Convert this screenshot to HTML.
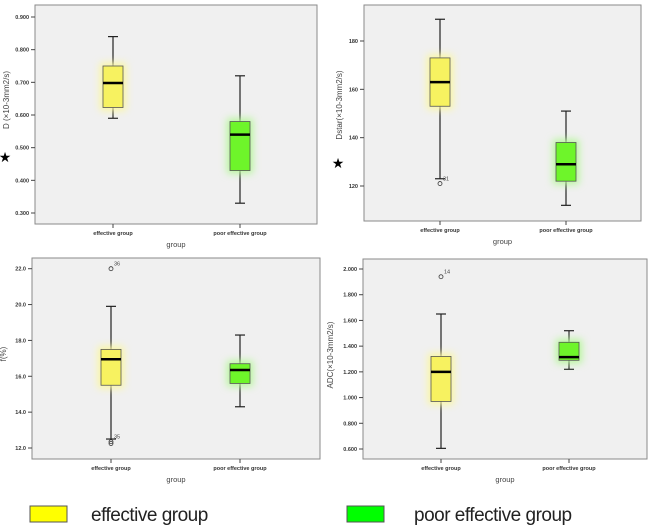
<!DOCTYPE html>
<html><head><meta charset="utf-8"><style>
body{margin:0;background:#fff;width:650px;height:527px;overflow:hidden;font-family:"Liberation Sans",sans-serif}
svg{position:absolute;left:0;top:0}
</style></head><body>
<svg id="chart" width="650" height="527" viewBox="0 0 650 527" xmlns="http://www.w3.org/2000/svg">
<defs>
<filter id="glowY" x="-100%" y="-50%" width="300%" height="200%"><feGaussianBlur stdDeviation="4"/></filter>
</defs>
</svg>
<script>
// Data (min whisker, q1, median, q3, max whisker) per group
const groups = ["effective group", "poor effective group"];
const dEffective = [0.59, 0.623, 0.698, 0.75, 0.84];
const dPoor = [0.33, 0.43, 0.54, 0.58, 0.72];
const dTicks = [0.3, 0.4, 0.5, 0.6, 0.7, 0.8, 0.9];
const dstarEffective = [123, 153, 163, 173, 189];
const dstarPoor = [112, 122, 129, 138, 151];
const dstarTicks = [120, 140, 160, 180];
const dstarOutliers = [[0, 121, "31"]];
const fEffective = [12.5, 15.5, 16.95, 17.5, 19.9];
const fPoor = [14.3, 15.6, 16.35, 16.7, 18.3];
const fTicks = [12, 14, 16, 18, 20, 22];
const fOutliers = [[0, 22.0, "36"], [0, 12.35, "35"], [0, 12.25, ""]];
const adcEffective = [0.605, 0.97, 1.2, 1.32, 1.65];
const adcPoor = [1.22, 1.29, 1.315, 1.43, 1.52];
const adcTicks = [0.6, 0.8, 1.0, 1.2, 1.4, 1.6, 1.8, 2.0];
const adcOutliers = [[0, 1.94, "14"]];

const NS = "http://www.w3.org/2000/svg";
const svg = document.getElementById("chart");
function mk(tag, attrs, parent, text) {
  const e = document.createElementNS(NS, tag);
  for (const k in attrs) e.setAttribute(k, attrs[k]);
  if (text !== undefined) e.textContent = text;
  (parent || svg).appendChild(e);
  return e;
}
function panel(cfg) {
  const g = mk("g", {});
  
  
  const bg = mk("rect", {x: cfg.x0, y: cfg.y0, width: cfg.x1 - cfg.x0, height: cfg.y1 - cfg.y0, fill: "#f0f0f0", stroke: "#8a8a8a", "stroke-width": 1}, g);
  
  
  const ys = v => cfg.ya + (v - cfg.va) * (cfg.yb - cfg.ya) / (cfg.vb - cfg.va);
  cfg.ticks.forEach(t => {
    const y = ys(t);
    const tk = mk("line", {x1: cfg.x0 - 4, x2: cfg.x0, y1: y, y2: y, stroke: "#444"}, g);
    
    
    const lb = mk("text", {x: cfg.x0 - 6, y: y + 2, "font-size": 5.5, "font-weight": "bold", "text-anchor": "end", fill: "#333"}, g, t.toFixed(cfg.dec));
    
    
  });
  const colors = ["#f7f260", "#6ef52a"];
  cfg.series.forEach((s, i) => {
    const cx = cfg.cx[i], w = 20;
    const bx = mk("g", {}, g);
    
    
    mk("line", {x1: cx, x2: cx, y1: ys(s[0]), y2: ys(s[4]), stroke: "#222", "stroke-width": 1.2}, bx);
    mk("line", {x1: cx - 5, x2: cx + 5, y1: ys(s[0]), y2: ys(s[0]), stroke: "#222", "stroke-width": 1.2}, bx);
    mk("line", {x1: cx - 5, x2: cx + 5, y1: ys(s[4]), y2: ys(s[4]), stroke: "#222", "stroke-width": 1.2}, bx);
    mk("rect", {x: cx - w / 2 - 3, y: ys(s[3]) - 3, width: w + 6, height: ys(s[1]) - ys(s[3]) + 6, fill: i === 0 ? "#fbf7a0" : "#b6f79a", filter: "url(#glowY)"}, bx);
    mk("rect", {x: cx - w / 2, y: ys(s[3]), width: w, height: ys(s[1]) - ys(s[3]), fill: colors[i], stroke: "#555", "stroke-width": 0.8}, bx);
    mk("line", {x1: cx - w / 2, x2: cx + w / 2, y1: ys(s[2]), y2: ys(s[2]), stroke: "#000", "stroke-width": 2.5}, bx);
    const xt = mk("line", {x1: cx, x2: cx, y1: cfg.y1, y2: cfg.y1 + 4, stroke: "#444"}, g);
    
    
    const xl = mk("text", {x: cx, y: cfg.y1 + 11, "font-size": 5.5, "font-weight": "bold", "text-anchor": "middle", fill: "#333"}, g, groups[i]);
    
    
  });
  (cfg.outliers || []).forEach(o => {
    const cx = cfg.cx[o[0]], y = ys(o[1]);
    const c = mk("circle", {cx: cx, cy: y, r: 2, fill: "none", stroke: "#333", "stroke-width": 0.8}, g);
    
    
    if (o[2]) {
      const t = mk("text", {x: cx + 3, y: y - 3, "font-size": 5.5, fill: "#444"}, g, o[2]);
      
      
    }
  });
  const mid = (cfg.x0 + cfg.x1) / 2;
  const xt = mk("text", {x: mid, y: cfg.y1 + 23, "font-size": 7.5, "text-anchor": "middle", fill: "#444"}, g, "group");
  
  
  const yt = mk("text", {x: 0, y: 0, "font-size": 8, "text-anchor": "middle", fill: "#444", transform: `translate(${cfg.ytx},${cfg.yty}) rotate(-90)`}, g, cfg.ytitle);
  
  
  if (cfg.star) {
    const st = mk("text", {x: cfg.star[0], y: cfg.star[1], "font-size": 14, "text-anchor": "middle", fill: "#000", "font-family": "DejaVu Sans"}, g, "★");
    
    
  }
}
panel({name: "panel-d", x0: 35, x1: 317, y0: 5, y1: 224, ya: 17, yb: 213, va: 0.9, vb: 0.3, ticks: dTicks, dec: 3, cx: [113, 240], series: [dEffective, dPoor], ytitle: "D (×10-3mm2/s)", ytx: 9, yty: 100, star: [5, 162]});
panel({name: "panel-dstar", x0: 364, x1: 641, y0: 5, y1: 221, ya: 41, yb: 186, va: 180, vb: 120, ticks: dstarTicks, dec: 0, cx: [440, 566], series: [dstarEffective, dstarPoor], outliers: dstarOutliers, ytitle: "Dstar(×10-3mm2/s)", ytx: 342, yty: 105, star: [338, 168]});
panel({name: "panel-f", x0: 32, x1: 320, y0: 258, y1: 459, ya: 268.7, yb: 448, va: 22, vb: 12, ticks: fTicks, dec: 1, cx: [111, 240], series: [fEffective, fPoor], outliers: fOutliers, ytitle: "f(%)", ytx: 6, yty: 354});
panel({name: "panel-adc", x0: 363, x1: 647, y0: 259, y1: 459, ya: 269, yb: 449, va: 2.0, vb: 0.6, ticks: adcTicks, dec: 3, cx: [441, 569], series: [adcEffective, adcPoor], outliers: adcOutliers, ytitle: "ADC(×10-3mm2/s)", ytx: 333, yty: 355});

// Legend
const lg = mk("g", {});


[["#ffff00", 30, 91, "effective group", "legend-entry-effective"], ["#00ff00", 347, 414, "poor effective group", "legend-entry-poor-effective"]].forEach(l => {
  const e = mk("g", {}, lg);
  
  
  mk("rect", {x: l[1], y: 506, width: 37, height: 16, fill: l[0], stroke: "#555", "stroke-width": 1}, e);
  mk("text", {x: l[2], y: 521, "font-size": 19, fill: "#222", "font-family": "Liberation Sans, sans-serif", "letter-spacing": "-0.5"}, e, l[3]);
});
</script>
</body></html>
